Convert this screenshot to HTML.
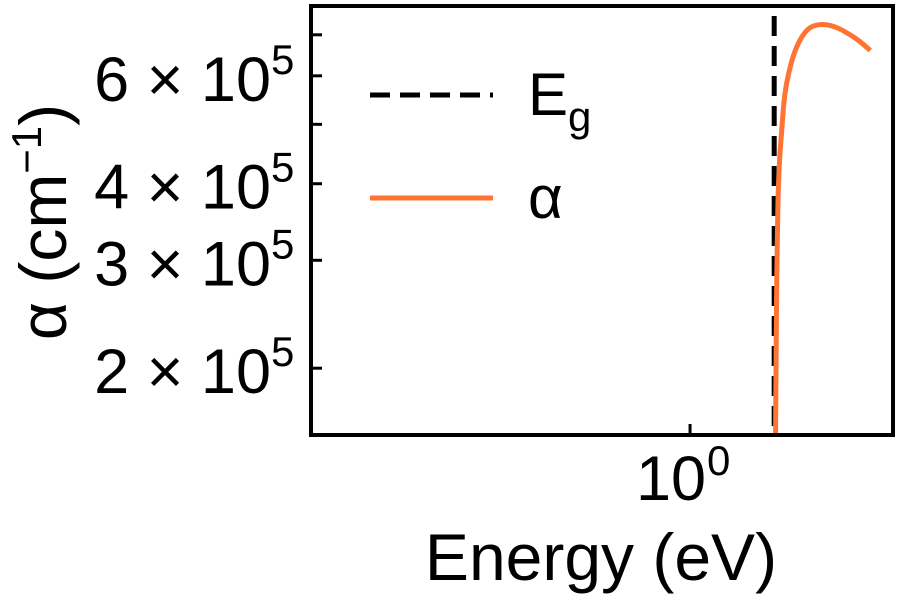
<!DOCTYPE html>
<html><head><meta charset="utf-8"><style>
html,body{margin:0;padding:0;background:#fff;}
svg{display:block;font-family:"Liberation Sans",Arial,sans-serif;}
</style></head><body>
<svg id="chart" width="900" height="600" viewBox="0 0 900 600" xmlns="http://www.w3.org/2000/svg">
<rect width="900" height="600" fill="#fff"/>
<defs><clipPath id="plotclip"><rect x="311" y="6" width="582" height="429"/></clipPath></defs>
<g id="ticks"></g>
<g id="labels" font-size="63" fill="#000"></g>
<g clip-path="url(#plotclip)" id="marks"></g>
<rect x="311" y="6" width="582" height="429" fill="none" stroke="#000" stroke-width="4"/>
<g>
<line x1="370" y1="95" x2="493" y2="95" stroke="#000" stroke-width="5" stroke-dasharray="20,10"/>
<text x="528" y="115" font-size="60">E<tspan font-size="42" dy="16">g</tspan></text>
<line x1="370" y1="198" x2="493" y2="198" stroke="#ff7433" stroke-width="5"/>
<text x="528" y="218" font-size="60">α</text>
</g>
<text x="601" y="580" font-size="66" text-anchor="middle">Energy (eV)</text>
<text transform="translate(66,222) rotate(-90)" font-size="66" text-anchor="middle">α (cm<tspan font-size="42" dy="-25">−1</tspan><tspan dy="25">)</tspan></text>
</svg>
<script>
const energies = [1.428, 1.432, 1.436, 1.443, 1.452, 1.464, 1.478, 1.495, 1.525, 1.558, 1.6, 1.646, 1.71, 1.78, 1.85, 1.923, 2.02, 2.12];
const alphaValues = [1.5e5, 2.2e5, 2.9e5, 3.76e5, 4.35e5, 4.83e5, 5.4e5, 5.82e5, 6.3e5, 6.67e5, 6.98e5, 7.18e5, 7.27e5, 7.26e5, 7.18e5, 7.05e5, 6.85e5, 6.6e5];
const bandGap = 1.42;
const yTickValues = [2e5, 3e5, 4e5, 5e5, 6e5, 7e5];
const yLabelMantissa = {200000:"2", 300000:"3", 400000:"4", 600000:"6"};
const xTickValues = [1];
const xTickLabels = ["0"];

const NS = "http://www.w3.org/2000/svg";
const xMin = Math.log10(0.206), xMax = Math.log10(2.33);
const yMin = Math.log10(1.556e5), yMax = Math.log10(7.8e5);
function xScale(e){ return 311 + (Math.log10(e) - xMin) / (xMax - xMin) * 582; }
function yScale(v){ return 435 - (Math.log10(v) - yMin) / (yMax - yMin) * 429; }
function mk(tag, attrs, parent){ const el = document.createElementNS(NS, tag); for (const k in attrs) el.setAttribute(k, attrs[k]); parent.appendChild(el); return el; }

const ticks = document.getElementById('ticks');
const labels = document.getElementById('labels');
const marks = document.getElementById('marks');

yTickValues.forEach(v => {
  const y = yScale(v);
  const t = mk('line', {x1:311, y1:y, x2:322, y2:y, stroke:'#000', 'stroke-width':3}, ticks);
  
  
  const m = yLabelMantissa[v];
  if (m) {
    const tx = mk('text', {x:271, y:y+25, 'text-anchor':'end'}, labels);
    
    
    tx.textContent = m + " × 10";
    const s = mk('text', {x:271, y:y-2, 'font-size':42}, labels);
    
    
    s.textContent = "5";
  }
});
xTickValues.forEach((v, i) => {
  const x = xScale(v);
  const t = mk('line', {x1:x, y1:435, x2:x, y2:424, stroke:'#000', 'stroke-width':3}, ticks);
  
  
  const tx = mk('text', {x:x+16, y:500, 'text-anchor':'end'}, labels);
  
  
  tx.textContent = "10";
  const s = mk('text', {x:x+17, y:475, 'font-size':42}, labels);
  
  
  s.textContent = xTickLabels[i];
});

const gx = xScale(bandGap);
const eg = mk('line', {x1:gx, y1:16, x2:gx, y2:435, stroke:'#000', 'stroke-width':5, 'stroke-dasharray':'20,10'}, marks);



const pts = energies.map((e, i) => [xScale(e), yScale(alphaValues[i])]);
let d = 'M' + pts[0][0].toFixed(1) + ' ' + pts[0][1].toFixed(1);
for (let i = 0; i < pts.length - 1; i++) {
  const p0 = pts[Math.max(0, i - 1)], p1 = pts[i], p2 = pts[i + 1], p3 = pts[Math.min(pts.length - 1, i + 2)];
  const c1 = [p1[0] + (p2[0] - p0[0]) / 6, p1[1] + (p2[1] - p0[1]) / 6];
  const c2 = [p2[0] - (p3[0] - p1[0]) / 6, p2[1] - (p3[1] - p1[1]) / 6];
  d += ' C' + c1[0].toFixed(1) + ' ' + c1[1].toFixed(1) + ' ' + c2[0].toFixed(1) + ' ' + c2[1].toFixed(1) + ' ' + p2[0].toFixed(1) + ' ' + p2[1].toFixed(1);
}
const p = mk('path', {d:d, fill:'none', stroke:'#ff7433', 'stroke-width':5, 'stroke-linejoin':'round'}, marks);


</script>
</body></html>
